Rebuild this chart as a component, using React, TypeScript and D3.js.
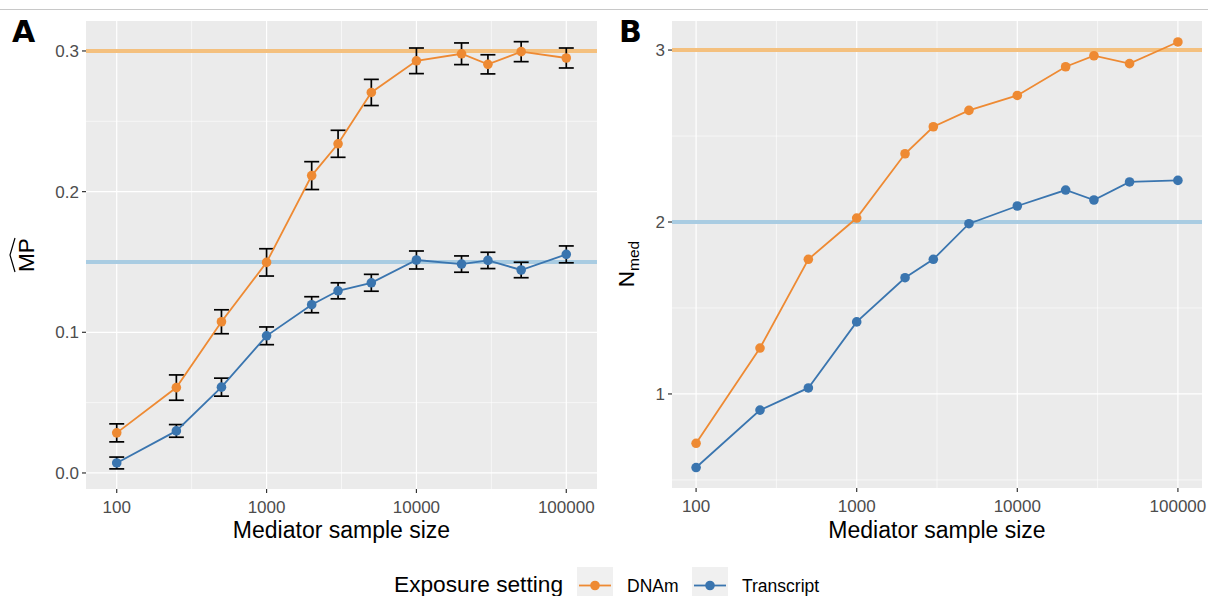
import React from "react";
import { scaleLog, scaleLinear, line } from "d3";

// mediator sample sizes (x)
const sizes = [100, 250, 500, 1000, 2000, 3000, 5000, 10000, 20000, 30000, 50000, 100000];

// panel A: estimated MP with error bar half-widths
const mpDNAm = [0.0285, 0.0607, 0.1075, 0.1497, 0.2114, 0.234, 0.2705, 0.293, 0.298, 0.2905, 0.2995, 0.295];
const mpDNAmErr = [0.0064, 0.009, 0.0085, 0.0097, 0.0099, 0.0096, 0.0093, 0.0091, 0.0077, 0.0068, 0.0071, 0.0071];
const mpTranscript = [0.0071, 0.0299, 0.061, 0.0975, 0.1196, 0.1295, 0.1352, 0.1514, 0.1485, 0.1511, 0.1443, 0.1554];
const mpTranscriptErr = [0.0042, 0.0045, 0.0064, 0.0063, 0.0057, 0.0057, 0.006, 0.0064, 0.0058, 0.0058, 0.0055, 0.006];

// panel B: N_med
const nDNAm = [0.713, 1.267, 1.783, 2.023, 2.397, 2.554, 2.649, 2.736, 2.903, 2.967, 2.921, 3.047];
const nTranscript = [0.572, 0.906, 1.035, 1.419, 1.676, 1.783, 1.99, 2.093, 2.186, 2.128, 2.233, 2.242];

// true values drawn as reference lines
const mpTrue = [0.3, 0.15];
const nTrue = [3, 2];

const xTicks = [100, 1000, 10000, 100000];
const xMinor = [316.23, 3162.3, 31623];
const mpTicks = [0, 0.1, 0.2, 0.3];
const mpMinor = [0.05, 0.15, 0.25];
const nTicks = [1, 2, 3];
const nMinor = [0.5, 1.5, 2.5];

const seriesNames = ["DNAm", "Transcript"];
const colors = ["#ee8a33", "#3a75af"];
const hlineColors = ["#f4c07e", "#a9cce2"];

const FONT = "'Liberation Sans', Arial, Helvetica, sans-serif";

function Panel({ x0, x1, y0, y1, xDomain, yDomain, yTicks, yMinor, yFmt, hlines, series, errs, capLog }) {
  const x = scaleLog().domain(xDomain).range([x0, x1]);
  const y = scaleLinear().domain(yDomain).range([y1, y0]);
  const path = line<number>()
    .x((_, i) => x(sizes[i]))
    .y((d) => y(d));

  return (
    <g>
      <rect x={x0} y={y0} width={x1 - x0} height={y1 - y0} fill="#ebebeb" />
      {/* minor grid */}
      {xMinor.map((v) => (
        <line key={"xm" + v} x1={x(v)} x2={x(v)} y1={y0} y2={y1} stroke="#fff" strokeWidth={0.6} />
      ))}
      {yMinor.map((v) => (
        <line key={"ym" + v} x1={x0} x2={x1} y1={y(v)} y2={y(v)} stroke="#fff" strokeWidth={0.6} />
      ))}
      {/* major grid */}
      {xTicks.map((v) => (
        <line key={"xg" + v} x1={x(v)} x2={x(v)} y1={y0} y2={y1} stroke="#fff" strokeWidth={1.2} />
      ))}
      {yTicks.map((v) => (
        <line key={"yg" + v} x1={x0} x2={x1} y1={y(v)} y2={y(v)} stroke="#fff" strokeWidth={1.2} />
      ))}
      {/* true values */}
      {hlines.map((v, i) => (
        <line key={"h" + i} x1={x0} x2={x1} y1={y(v)} y2={y(v)} stroke={hlineColors[i]} strokeWidth={4} />
      ))}
      {/* error bars */}
      {errs &&
        series.map((s, si) =>
          s.map((d, i) => {
            const e = errs[si][i];
            const xc = x(sizes[i]);
            const xl = x(sizes[i] / Math.pow(10, capLog));
            const xr = x(sizes[i] * Math.pow(10, capLog));
            return (
              <g key={"e" + si + "-" + i} stroke="#000" strokeWidth={1.7} fill="none">
                <line x1={xc} x2={xc} y1={y(d - e)} y2={y(d + e)} />
                <line x1={xl} x2={xr} y1={y(d - e)} y2={y(d - e)} />
                <line x1={xl} x2={xr} y1={y(d + e)} y2={y(d + e)} />
              </g>
            );
          })
        )}
      {series.map((s, si) => (
        <path key={"l" + si} d={path(s) || ""} fill="none" stroke={colors[si]} strokeWidth={1.8} />
      ))}
      {series.map((s, si) =>
        s.map((d, i) => <circle key={"p" + si + "-" + i} cx={x(sizes[i])} cy={y(d)} r={4.8} fill={colors[si]} />)
      )}
      {/* axes */}
      {xTicks.map((v) => (
        <g key={"xt" + v}>
          <line x1={x(v)} x2={x(v)} y1={y1} y2={y1 + 4} stroke="#333" strokeWidth={1.2} />
          <text x={x(v)} y={y1 + 24} textAnchor="middle" fontSize={17} fill="#4d4d4d" fontFamily={FONT}>
            {v}
          </text>
        </g>
      ))}
      {yTicks.map((v) => (
        <g key={"yt" + v}>
          <line x1={x0 - 4} x2={x0} y1={y(v)} y2={y(v)} stroke="#333" strokeWidth={1.2} />
          <text x={x0 - 7} y={y(v) + 6} textAnchor="end" fontSize={17} fill="#4d4d4d" fontFamily={FONT}>
            {yFmt(v)}
          </text>
        </g>
      ))}
      <text x={(x0 + x1) / 2} y={538} textAnchor="middle" fontSize={23} fill="#000" fontFamily={FONT}>
        Mediator sample size
      </text>
    </g>
  );
}

export default function App() {
  return (
    <svg
      width={1208}
      height={596}
      style={{ position: "absolute", left: 0, top: 0, background: "#fff" }}
      fontFamily={FONT}
    >
      <line x1={0} x2={1208} y1={9.5} y2={9.5} stroke="#c8c8c8" strokeWidth={1} />

      <Panel
        x0={86}
        x1={597}
        y0={21}
        y1={489}
        xDomain={[Math.pow(10, 1.795), Math.pow(10, 5.205)]}
        yDomain={[-0.0114, 0.3213]}
        yTicks={mpTicks}
        yMinor={mpMinor}
        yFmt={(v: number) => v.toFixed(1)}
        hlines={mpTrue}
        series={[mpDNAm, mpTranscript]}
        errs={[mpDNAmErr, mpTranscriptErr]}
        capLog={0.05}
      />
      <Panel
        x0={672}
        x1={1202}
        y0={21}
        y1={488}
        xDomain={[Math.pow(10, 1.85), Math.pow(10, 5.15)]}
        yDomain={[0.453, 3.169]}
        yTicks={nTicks}
        yMinor={nMinor}
        yFmt={(v: number) => String(v)}
        hlines={nTrue}
        series={[nDNAm, nTranscript]}
        errs={null}
        capLog={0}
      />

      {/* panel tags */}
      <text x={12} y={42} fontSize={30} fontWeight={900} fontFamily="'DejaVu Sans', Arial, sans-serif">A</text>
      <text x={619} y={42} fontSize={30} fontWeight={900} fontFamily="'DejaVu Sans', Arial, sans-serif">B</text>

      {/* y titles */}
      <g transform="translate(34,255) rotate(-90)">
        <text x={0} y={0} textAnchor="middle" fontSize={22.5} fill="#000">MP</text>
        <path d="M-17,-19 L0,-24 L17,-19" fill="none" stroke="#000" strokeWidth={1.2} />
      </g>
      <g transform="translate(634,264) rotate(-90)">
        <text x={0} y={0} textAnchor="middle" fontSize={22.5} fill="#000">
          N<tspan fontSize={15.5} dy={5}>med</tspan>
        </text>
      </g>

      {/* legend */}
      <text x={394} y={592} fontSize={22.7} fill="#000">Exposure setting</text>
      {seriesNames.map((name, i) => {
        const bx = i === 0 ? 577 : 692;
        return (
          <g key={name}>
            <rect x={bx} y={567} width={36} height={36} fill="#f0f0f0" />
            <line x1={bx + 2} x2={bx + 34} y1={585.5} y2={585.5} stroke={colors[i]} strokeWidth={1.8} />
            <circle cx={bx + 18} cy={585.5} r={4.8} fill={colors[i]} />
            <text x={bx + 50} y={592} fontSize={17.5} fill="#000">{name}</text>
          </g>
        );
      })}
    </svg>
  );
}
